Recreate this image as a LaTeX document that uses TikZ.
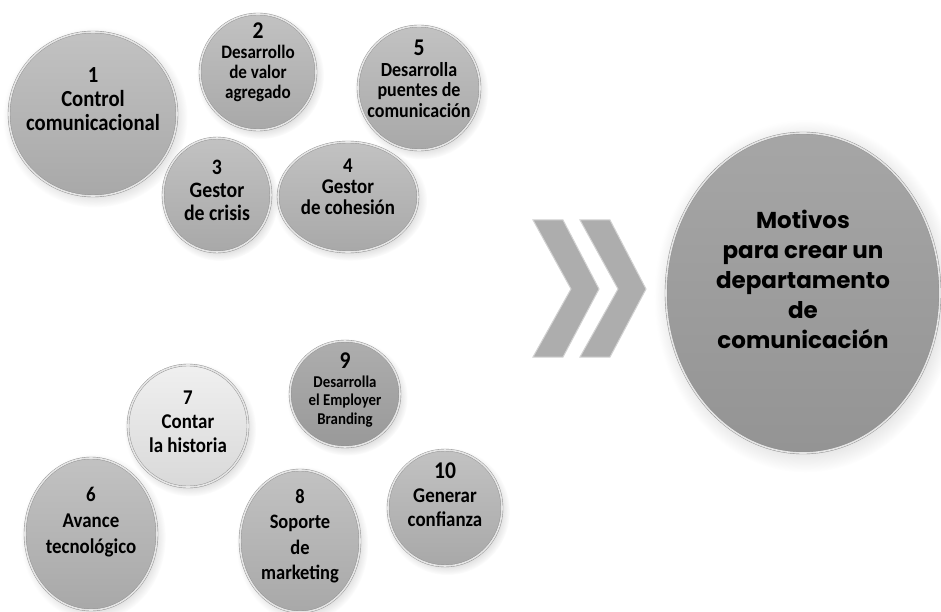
\documentclass[tikz,border=0pt]{standalone}
\usepackage{fontspec}
\setmainfont{Carlito}[FakeStretch=0.9]
\newfontfamily\motfont{Poppins}
\usepackage{tikz}
\usetikzlibrary{shapes.geometric,shadows}

\definecolor{balltop}{gray}{0.76}
\definecolor{ballbot}{gray}{0.66}
\definecolor{ballrim}{gray}{0.90}
\definecolor{ballline}{gray}{0.55}
\definecolor{chevfill}{gray}{0.68}

\tikzstyle{ball}=[
  ellipse, inner sep=0pt, top color=balltop, bottom color=ballbot,
  draw=ballline, double=ballrim, double distance=1.6pt,
  circular drop shadow={shadow xshift=2pt, shadow yshift=-3pt, opacity=0.25}
]
\tikzstyle{lightball}=[
  ball, top color=gray!12, bottom color=gray!30
]
\tikzstyle{darkball}=[
  ball, top color=gray!64, bottom color=gray!80
]
\tikzstyle{lbl}=[
  align=center, font=\bfseries\fontsize{21}{23}\selectfont
]
\tikzstyle{chev}=[
  fill=chevfill, draw=gray!35, line width=1pt
]
\newcommand{\ballnum}[1]{{\fontsize{24}{24}\selectfont #1}}

\begin{document}
\begin{tikzpicture}[x=1pt,y=-1pt]
  \useasboundingbox (0,0) rectangle (941,612);

  % upper group
  \node (b1) at (93,114) [ball, minimum width=168pt, minimum height=164pt] {};
  \node (b2) at (258,72) [ball, minimum width=116pt, minimum height=116pt] {};
  \node (b5) at (419,88) [ball, minimum width=122pt, minimum height=124pt] {};
  \node (b3) at (217,195) [ball, minimum width=108pt, minimum height=114pt] {};
  \node (b4) at (348,197) [ball, minimum width=140pt, minimum height=110pt] {};

  \node (t1) at (93,99) [lbl, font=\bfseries\fontsize{23}{24}\selectfont] {1\\Control\\comunicacional};
  \node (t2) at (258,62) [lbl, font=\bfseries\fontsize{19}{20}\selectfont] {\ballnum{2}\\Desarrollo\\de valor\\agregado};
  \node (t5) at (419,79) [lbl, font=\bfseries\fontsize{20}{20.5}\selectfont] {\ballnum{5}\\Desarrolla\\puentes de\\comunicación};
  \node (t3) at (217,190) [lbl, font=\bfseries\fontsize{22}{23}\selectfont] {3\\Gestor\\de crisis};
  \node (t4) at (348,187) [lbl, font=\bfseries\fontsize{21}{21}\selectfont] {4\\Gestor\\de cohesión};

  % lower group
  \node (b7) at (188,426) [lightball, minimum width=120pt, minimum height=122pt] {};
  \node (b9) at (345,394) [darkball, minimum width=110pt, minimum height=106pt] {};
  \node (b6) at (91,534) [ball, minimum width=132pt, minimum height=152pt] {};
  \node (b8) at (300,541) [ball, minimum width=120pt, minimum height=142pt] {};
  \node (b10) at (445,508) [ball, minimum width=114pt, minimum height=116pt] {};

  \node (t7) at (188,422) [lbl, font=\bfseries\fontsize{21}{24}\selectfont] {7\\Contar\\la historia};
  \node (t9) at (345,390) [lbl, font=\bfseries\fontsize{16.5}{18.5}\selectfont] {\ballnum{9}\\Desarrolla\\el Employer\\Branding};
  \node (t6) at (91,522) [lbl, font=\bfseries\fontsize{21}{26}\selectfont] {6\\Avance\\tecnológico};
  \node (t8) at (300,536) [lbl, font=\bfseries\fontsize{20.5}{25.5}\selectfont] {8\\Soporte\\de\\marketing};
  \node (t10) at (445,495) [lbl, font=\bfseries\fontsize{21}{24}\selectfont] {\ballnum{10}\\Generar\\confianza};

  % chevrons
  \foreach \cx in {533,580}
    \draw[chev] (\cx,220) -- (\cx+30,220) -- (\cx+66,289) -- (\cx+30,357)
      -- (\cx,357) -- (\cx+38,289) -- cycle;

  % main ellipse
  \node (bm) at (803,293) [darkball, top color=gray!70, bottom color=gray!84,
    minimum width=274pt, minimum height=320pt] {};
  \node (tm) at (803,279) [lbl, font=\motfont\bfseries\fontsize{23}{30}\selectfont]
    {Motivos\\para crear un\\departamento\\de\\comunicación};
\end{tikzpicture}
\end{document}
